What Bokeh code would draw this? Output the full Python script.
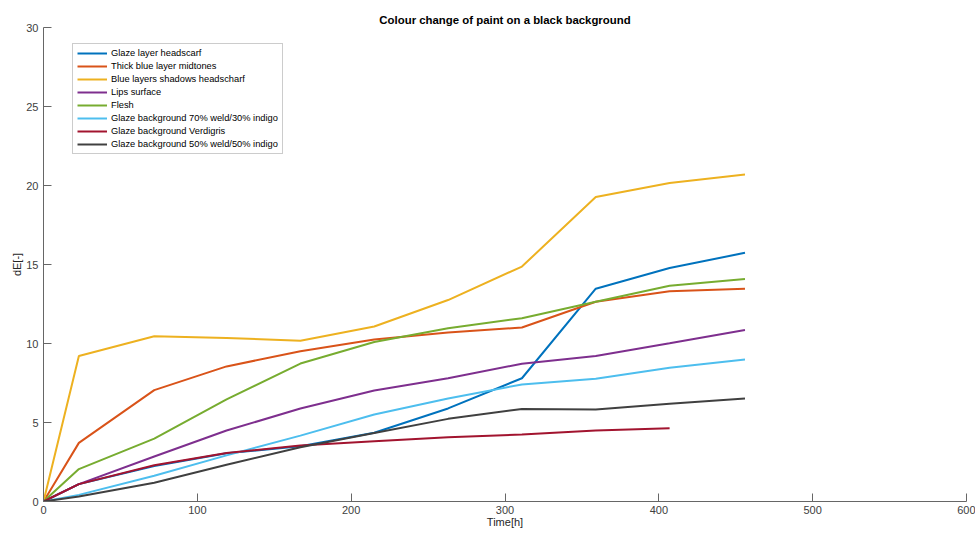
from bokeh.plotting import figure
from bokeh.models import Range1d, FixedTicker, Legend, LegendItem
from bokeh.embed import file_html
from bokeh.resources import INLINE

time_h = [0, 23, 72, 119, 167, 215, 263, 311, 359, 407, 456]
time_verdigris = [0, 23, 72, 119, 167, 215, 263, 311, 359, 407]

glaze_headscarf = [0, 1.10, 2.25, 3.05, 3.50, 4.35, 5.89, 7.80, 13.47, 14.78, 15.74]
thick_blue_midtones = [0, 3.71, 7.05, 8.55, 9.51, 10.25, 10.70, 11.01, 12.64, 13.30, 13.47]
blue_shadows = [0, 9.21, 10.46, 10.35, 10.17, 11.08, 12.75, 14.87, 19.27, 20.16, 20.69]
lips_surface = [0, 1.10, 2.85, 4.49, 5.89, 7.03, 7.80, 8.72, 9.21, 10.02, 10.86]
flesh = [0, 2.05, 3.98, 6.46, 8.73, 10.10, 10.97, 11.60, 12.64, 13.66, 14.08]
glaze_bg_70_30 = [0, 0.42, 1.63, 2.92, 4.17, 5.51, 6.52, 7.41, 7.77, 8.47, 8.98]
glaze_bg_verdigris = [0, 1.10, 2.29, 3.07, 3.54, 3.81, 4.07, 4.24, 4.49, 4.64]
glaze_bg_50_50 = [0, 0.32, 1.19, 2.33, 3.43, 4.34, 5.23, 5.86, 5.82, 6.18, 6.52]

series_names = [
    "Glaze layer headscarf",
    "Thick blue layer midtones",
    "Blue layers shadows headscharf",
    "Lips surface",
    "Flesh",
    "Glaze background 70% weld/30% indigo",
    "Glaze background Verdigris",
    "Glaze background 50% weld/50% indigo",
]
series_values = [glaze_headscarf, thick_blue_midtones, blue_shadows, lips_surface,
                 flesh, glaze_bg_70_30, glaze_bg_verdigris, glaze_bg_50_50]
series_x = [time_h, time_h, time_h, time_h, time_h, time_h, time_verdigris, time_h]
colors = ["#0072BD", "#D95319", "#EDB120", "#7E2F8E", "#77AC30", "#4DBEEE", "#A2142F", "#404040"]

x_ticks = [0, 100, 200, 300, 400, 500, 600]
y_ticks = [0, 5, 10, 15, 20, 25, 30]

FONT = "Liberation Sans"

p = figure(width=975, height=530, output_backend="svg", toolbar_location=None,
           x_range=Range1d(0, 600), y_range=Range1d(0, 30),
           min_border_left=43, min_border_right=9, min_border_top=27, min_border_bottom=0,
           title="Colour change of paint on a black background")
p.title.align = "center"
p.title.text_font = FONT
p.title.text_font_size = "11.4px"
p.title.text_font_style = "bold"
p.title.text_color = "#000000"
p.title.standoff = 4

p.outline_line_color = None
p.xgrid.visible = False
p.ygrid.visible = False

items = []
for name, xs, ys, c in zip(series_names, series_x, series_values, colors):
    r = p.line(xs, ys, line_color=c, line_width=2)
    items.append(LegendItem(label=name, renderers=[r]))

for ax in (p.xaxis[0], p.yaxis[0]):
    ax.axis_line_color = "#666666"
    ax.major_tick_line_color = "#666666"
    ax.major_tick_in = 8
    ax.major_tick_out = 0
    ax.minor_tick_line_color = None
    ax.major_label_text_font = FONT
    ax.major_label_text_font_size = "11px"
    ax.major_label_text_color = "#404040"
    ax.axis_label_text_font = FONT
    ax.axis_label_text_font_size = "11px"
    ax.axis_label_text_font_style = "normal"
    ax.axis_label_text_color = "#262626"

p.xaxis.ticker = FixedTicker(ticks=x_ticks)
p.yaxis.ticker = FixedTicker(ticks=y_ticks)
p.xaxis.axis_label = "Time[h]"
p.yaxis.axis_label = "dE[-]"
p.xaxis.major_label_standoff = 4
p.yaxis.major_label_standoff = 5
p.xaxis.axis_label_standoff = -1
p.yaxis.axis_label_standoff = 0

legend = Legend(items=items, location=(29, 347))
legend.label_text_font = FONT
legend.label_text_font_size = "9.3px"
legend.label_text_color = "#000000"
legend.glyph_width = 30
legend.glyph_height = 10
legend.label_height = 10
legend.spacing = 3
legend.padding = 4
legend.margin = 0
legend.label_standoff = 4
legend.border_line_color = "#999999"
legend.background_fill_alpha = 1.0
p.add_layout(legend, "center")

open("out.html", "w").write(file_html(p, INLINE))
